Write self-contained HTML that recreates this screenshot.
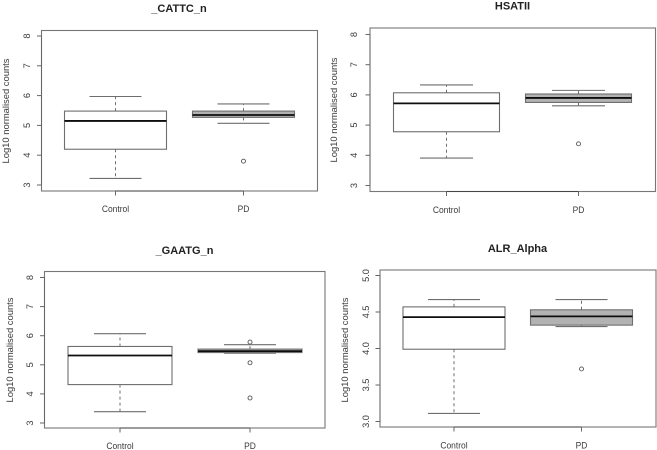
<!DOCTYPE html>
<html>
<head>
<meta charset="utf-8">
<title>Boxplots</title>
<style>
html,body{margin:0;padding:0;background:#fff;}
#chart{display:block;width:657px;height:450px;}
text{font-family:"Liberation Sans",sans-serif;fill:#3a3a3a;}
</style>
</head>
<body>
<svg id="chart" xmlns="http://www.w3.org/2000/svg" width="657" height="450" viewBox="0 0 657 450">
  <defs><filter id="soft" x="-5%" y="-5%" width="110%" height="110%"><feGaussianBlur stdDeviation="0.35"/></filter></defs>
  <rect width="657" height="450" fill="#fff"/>
  <g id="root" filter="url(#soft)"></g>
</svg>
<script>
const categories = ['Control', 'PD'];
const panelTitles = ['_CATTC_n', 'HSATII', '_GAATG_n', 'ALR_Alpha'];
const yTickLabels = [
  ['3', '4', '5', '6', '7', '8'],
  ['3', '4', '5', '6', '7', '8'],
  ['3', '4', '5', '6', '7', '8'],
  ['3.0', '3.5', '4.0', '4.5', '5.0']
];
const yAxisTitle = 'Log10 normalised counts';
// each box: [lower whisker, q1, median, q3, upper whisker]
const controlStats = [
  [3.22, 4.20, 5.15, 5.48, 5.97],
  [3.91, 4.78, 5.72, 6.07, 6.33],
  [3.39, 4.32, 5.32, 5.63, 6.07],
  [3.11, 3.99, 4.43, 4.57, 4.67]
];
const pdStats = [
  [5.07, 5.27, 5.35, 5.48, 5.72],
  [5.64, 5.75, 5.90, 6.03, 6.15],
  [5.40, 5.42, 5.47, 5.54, 5.69],
  [4.30, 4.32, 4.44, 4.53, 4.67]
];
const pdOutliers = [
  [3.80],
  [4.38],
  [5.78, 5.07, 3.86],
  [3.72]
];

const layouts = [
  {l:41.5,r:317.5,t:30.5,b:191,yLo:3,yHi:8,pLo:185,pHi:36,c0:115.5,c1:243.5,hw:51,wh:26,titleX:179,titleY:12,ylabX:9,ylabY:111,tickX:30,catY:212},
  {l:370,r:655.5,t:28,b:191.5,yLo:3,yHi:8,pLo:185.5,pHi:34.5,c0:446.5,c1:578.5,hw:53,wh:26.5,titleX:512.5,titleY:9.5,ylabX:337,ylabY:110,tickX:357,catY:213},
  {l:44.5,r:325,t:271.5,b:428,yLo:3,yHi:8,pLo:423,pHi:277.5,c0:120,c1:250,hw:52,wh:26,titleX:184.5,titleY:254,ylabX:13,ylabY:350,tickX:33,catY:449},
  {l:380,r:656,t:270,b:427,yLo:3,yHi:5,pLo:421.5,pHi:275.5,c0:454,c1:581.5,hw:51,wh:26,titleX:517.5,titleY:252,ylabX:348,ylabY:350,tickX:369,catY:448.5}
];

const NS = 'http://www.w3.org/2000/svg';
const root = document.getElementById('root');
const LINE = '#6e6e6e';

function mk(tag, attrs, parent) {
  const el = document.createElementNS(NS, tag);
  for (const k in attrs) el.setAttribute(k, attrs[k]);
  parent.appendChild(el);
  return el;
}

function drawBox(g, stats, cx, lay, y, fill, label) {
  const [lo, q1, med, q3, hi] = stats;
  const upper = mk('line', {x1:cx, x2:cx, y1:y(q3), y2:y(hi), stroke:LINE, 'stroke-width':1, 'stroke-dasharray':'3 3'}, g);
  
  
  const lower = mk('line', {x1:cx, x2:cx, y1:y(q1), y2:y(lo), stroke:LINE, 'stroke-width':1, 'stroke-dasharray':'3 3'}, g);
  
  
  const capHi = mk('line', {x1:cx - lay.wh, x2:cx + lay.wh, y1:y(hi), y2:y(hi), stroke:LINE, 'stroke-width':1.1}, g);
  
  
  const capLo = mk('line', {x1:cx - lay.wh, x2:cx + lay.wh, y1:y(lo), y2:y(lo), stroke:LINE, 'stroke-width':1.1}, g);
  
  
  const box = mk('rect', {x:cx - lay.hw, width:lay.hw * 2, y:y(q3), height:y(q1) - y(q3), fill:fill, stroke:LINE, 'stroke-width':1.1}, g);
  
  
  const median = mk('line', {x1:cx - lay.hw, x2:cx + lay.hw, y1:y(med), y2:y(med), stroke:'#111', 'stroke-width':1.8}, g);
  
  
}

panelTitles.forEach(function (title, i) {
  const lay = layouts[i];
  const y = function (v) { return lay.pLo + (v - lay.yLo) * (lay.pHi - lay.pLo) / (lay.yHi - lay.yLo); };

  const g = mk('g', {}, root);
  
  

  const t = mk('text', {x:lay.titleX, y:lay.titleY, 'text-anchor':'middle', 'font-size':11, 'font-weight':'bold', style:'fill:#222'}, g);
  t.textContent = title;
  
  

  const frame = mk('rect', {x:lay.l, y:lay.t, width:lay.r - lay.l, height:lay.b - lay.t, fill:'none', stroke:'#777', 'stroke-width':1.1}, g);
  
  

  const yl = mk('text', {transform:'translate(' + lay.ylabX + ',' + lay.ylabY + ') rotate(-90)', 'text-anchor':'middle', 'font-size':9, textLength:105, lengthAdjust:'spacingAndGlyphs'}, g);
  yl.textContent = yAxisTitle;
  
  

  const yAxis = mk('line', {x1:lay.l, x2:lay.l, y1:lay.pLo, y2:lay.pHi, stroke:'#666', 'stroke-width':1}, g);
  
  

  yTickLabels[i].forEach(function (lbl) {
    const py = y(parseFloat(lbl));
    const tick = mk('line', {x1:lay.l - 4.5, x2:lay.l, y1:py, y2:py, stroke:'#666', 'stroke-width':1}, g);
    
    
    const tl = mk('text', {transform:'translate(' + lay.tickX + ',' + py + ') rotate(-90)', 'text-anchor':'middle', 'font-size':9.2}, g);
    tl.textContent = lbl;
    
    
  });

  const xAxis = mk('line', {x1:lay.c0, x2:lay.c1, y1:lay.b, y2:lay.b, stroke:'#444', 'stroke-width':1.1}, g);
  
  

  categories.forEach(function (cat, c) {
    const cx = c === 0 ? lay.c0 : lay.c1;
    const xt = mk('line', {x1:cx, x2:cx, y1:lay.b, y2:lay.b + 4.5, stroke:'#666', 'stroke-width':1}, g);
    
    
    const xl = mk('text', {x:cx, y:lay.catY, 'text-anchor':'middle', 'font-size':9.6, transform:'translate(' + cx + ',0) scale(0.88,1) translate(' + (-cx) + ',0)'}, g);
    xl.textContent = cat;
    
    
  });

  drawBox(g, controlStats[i], lay.c0, lay, y, '#ffffff', 'control');
  drawBox(g, pdStats[i], lay.c1, lay, y, '#b2b2b2', 'pd');

  pdOutliers[i].forEach(function (v) {
    const o = mk('circle', {cx:lay.c1, cy:y(v), r:2, fill:'none', stroke:'#555', 'stroke-width':0.9}, g);
    
    
  });
});
</script>
</body>
</html>
